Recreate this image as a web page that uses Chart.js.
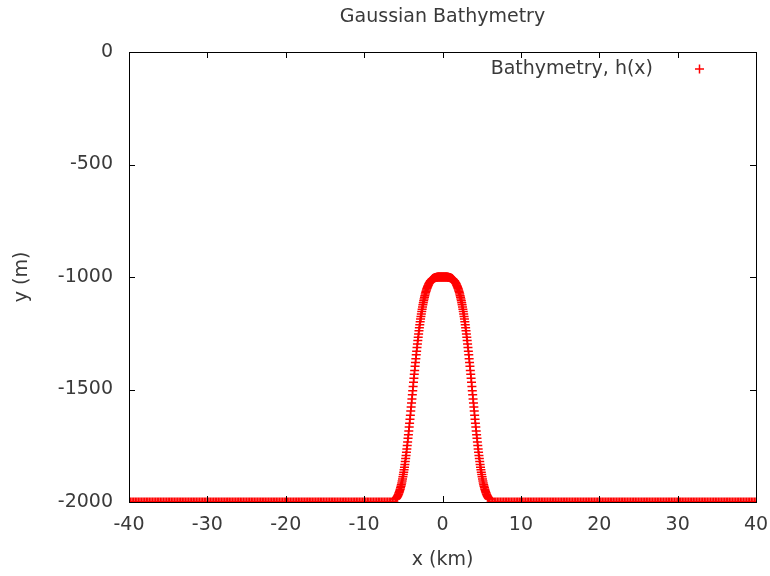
<!DOCTYPE html>
<html lang="en">
<head>
  <meta charset="UTF-8">
  <title>Gaussian Bathymetry</title>
  <script src="https://cdn.jsdelivr.net/npm/chart.js"></script>
  <style>
    html, body { margin: 0; padding: 0; background: #fff; }
    canvas { display: block; }
  </style>
</head>
<body>
  <canvas id="bathyChart" width="770" height="576"></canvas>
  <script>
    // values: x in km, depth h(x) in m
    const leftShelfX = [
      -40, -39.8, -39.6, -39.4, -39.2, -39, -38.8, -38.6, -38.4, -38.2,
      -38, -37.8, -37.6, -37.4, -37.2, -37, -36.8, -36.6, -36.4, -36.2,
      -36, -35.8, -35.6, -35.4, -35.2, -35, -34.8, -34.6, -34.4, -34.2,
      -34, -33.8, -33.6, -33.4, -33.2, -33, -32.8, -32.6, -32.4, -32.2,
      -32, -31.8, -31.6, -31.4, -31.2, -31, -30.8, -30.6, -30.4, -30.2,
      -30, -29.8, -29.6, -29.4, -29.2, -29, -28.8, -28.6, -28.4, -28.2,
      -28, -27.8, -27.6, -27.4, -27.2, -27, -26.8, -26.6, -26.4, -26.2,
      -26, -25.8, -25.6, -25.4, -25.2, -25, -24.8, -24.6, -24.4, -24.2,
      -24, -23.8, -23.6, -23.4, -23.2, -23, -22.8, -22.6, -22.4, -22.2,
      -22, -21.8, -21.6, -21.4, -21.2, -21, -20.8, -20.6, -20.4, -20.2,
      -20, -19.8, -19.6, -19.4, -19.2, -19, -18.8, -18.6, -18.4, -18.2,
      -18, -17.8, -17.6, -17.4, -17.2, -17, -16.8, -16.6, -16.4, -16.2,
      -16, -15.8, -15.6, -15.4, -15.2, -15, -14.8, -14.6, -14.4, -14.2,
      -14, -13.8, -13.6, -13.4, -13.2, -13, -12.8, -12.6, -12.4, -12.2,
      -12, -11.8, -11.6, -11.4, -11.2, -11, -10.8, -10.6, -10.4, -10.2,
      -10, -9.8, -9.6, -9.4, -9.2, -9, -8.8, -8.6, -8.4, -8.2,
      -8, -7.8, -7.6, -7.4, -7.2, -7, -6.8, -6.6, -6.4, -6.2
    ];
    const leftShelfDepth = [
      -2000, -2000, -2000, -2000, -2000, -2000, -2000, -2000, -2000, -2000,
      -2000, -2000, -2000, -2000, -2000, -2000, -2000, -2000, -2000, -2000,
      -2000, -2000, -2000, -2000, -2000, -2000, -2000, -2000, -2000, -2000,
      -2000, -2000, -2000, -2000, -2000, -2000, -2000, -2000, -2000, -2000,
      -2000, -2000, -2000, -2000, -2000, -2000, -2000, -2000, -2000, -2000,
      -2000, -2000, -2000, -2000, -2000, -2000, -2000, -2000, -2000, -2000,
      -2000, -2000, -2000, -2000, -2000, -2000, -2000, -2000, -2000, -2000,
      -2000, -2000, -2000, -2000, -2000, -2000, -2000, -2000, -2000, -2000,
      -2000, -2000, -2000, -2000, -2000, -2000, -2000, -2000, -2000, -2000,
      -2000, -2000, -2000, -2000, -2000, -2000, -2000, -2000, -2000, -2000,
      -2000, -2000, -2000, -2000, -2000, -2000, -2000, -2000, -2000, -2000,
      -2000, -2000, -2000, -2000, -2000, -2000, -2000, -2000, -2000, -2000,
      -2000, -2000, -2000, -2000, -2000, -2000, -2000, -2000, -2000, -2000,
      -2000, -2000, -2000, -2000, -2000, -2000, -2000, -2000, -2000, -2000,
      -2000, -2000, -2000, -2000, -2000, -2000, -2000, -2000, -2000, -2000,
      -2000, -2000, -2000, -2000, -2000, -2000, -2000, -2000, -2000, -2000,
      -2000, -2000, -2000, -2000, -2000, -2000, -2000, -2000, -2000, -2000
    ];
    const bumpX = [
      -6, -5.95, -5.9, -5.85, -5.8, -5.75, -5.7, -5.65, -5.6, -5.55,
      -5.5, -5.45, -5.4, -5.35, -5.3, -5.25, -5.2, -5.15, -5.1, -5.05,
      -5, -4.95, -4.9, -4.85, -4.8, -4.75, -4.7, -4.65, -4.6, -4.55,
      -4.5, -4.45, -4.4, -4.35, -4.3, -4.25, -4.2, -4.15, -4.1, -4.05,
      -4, -3.95, -3.9, -3.85, -3.8, -3.75, -3.7, -3.65, -3.6, -3.55,
      -3.5, -3.45, -3.4, -3.35, -3.3, -3.25, -3.2, -3.15, -3.1, -3.05,
      -3, -2.95, -2.9, -2.85, -2.8, -2.75, -2.7, -2.65, -2.6, -2.55,
      -2.5, -2.45, -2.4, -2.35, -2.3, -2.25, -2.2, -2.15, -2.1, -2.05,
      -2, -1.95, -1.9, -1.85, -1.8, -1.75, -1.7, -1.65, -1.6, -1.55,
      -1.5, -1.45, -1.4, -1.35, -1.3, -1.25, -1.2, -1.15, -1.1, -1.05,
      -1, -0.95, -0.9, -0.85, -0.8, -0.75, -0.7, -0.65, -0.6, -0.55,
      -0.5, -0.45, -0.4, -0.35, -0.3, -0.25, -0.2, -0.15, -0.1, -0.05,
      0,
      0.05, 0.1, 0.15, 0.2, 0.25, 0.3, 0.35, 0.4, 0.45, 0.5,
      0.55, 0.6, 0.65, 0.7, 0.75, 0.8, 0.85, 0.9, 0.95, 1,
      1.05, 1.1, 1.15, 1.2, 1.25, 1.3, 1.35, 1.4, 1.45, 1.5,
      1.55, 1.6, 1.65, 1.7, 1.75, 1.8, 1.85, 1.9, 1.95, 2,
      2.05, 2.1, 2.15, 2.2, 2.25, 2.3, 2.35, 2.4, 2.45, 2.5,
      2.55, 2.6, 2.65, 2.7, 2.75, 2.8, 2.85, 2.9, 2.95, 3,
      3.05, 3.1, 3.15, 3.2, 3.25, 3.3, 3.35, 3.4, 3.45, 3.5,
      3.55, 3.6, 3.65, 3.7, 3.75, 3.8, 3.85, 3.9, 3.95, 4,
      4.05, 4.1, 4.15, 4.2, 4.25, 4.3, 4.35, 4.4, 4.45, 4.5,
      4.55, 4.6, 4.65, 4.7, 4.75, 4.8, 4.85, 4.9, 4.95, 5,
      5.05, 5.1, 5.15, 5.2, 5.25, 5.3, 5.35, 5.4, 5.45, 5.5,
      5.55, 5.6, 5.65, 5.7, 5.75, 5.8, 5.85, 5.9, 5.95, 6
    ];
    const bumpDepth = [
      -1987, -1985, -1983, -1981, -1978, -1975, -1972, -1968, -1964, -1959,
      -1954, -1949, -1943, -1937, -1930, -1923, -1915, -1907, -1898, -1888,
      -1878, -1868, -1857, -1845, -1833, -1820, -1807, -1793, -1779, -1764,
      -1749, -1733, -1717, -1701, -1684, -1667, -1650, -1632, -1614, -1596,
      -1578, -1560, -1542, -1523, -1505, -1487, -1468, -1450, -1432, -1415,
      -1397, -1380, -1363, -1346, -1330, -1313, -1298, -1282, -1268, -1253,
      -1239, -1225, -1212, -1199, -1187, -1175, -1164, -1153, -1143, -1133,
      -1123, -1114, -1106, -1098, -1090, -1083, -1076, -1069, -1063, -1058,
      -1052, -1048, -1043, -1039, -1035, -1031, -1028, -1025, -1022, -1019,
      -1017, -1015, -1013, -1011, -1010, -1008, -1007, -1006, -1005, -1004,
      -1003, -1003, -1002, -1002, -1001, -1001, -1001, -1001, -1000, -1000,
      -1000, -1000, -1000, -1000, -1000, -1000, -1000, -1000, -1000, -1000,
      -1000,
      -1000, -1000, -1000, -1000, -1000, -1000, -1000, -1000, -1000, -1000,
      -1000, -1000, -1001, -1001, -1001, -1001, -1002, -1002, -1003, -1003,
      -1004, -1005, -1006, -1007, -1008, -1010, -1011, -1013, -1015, -1017,
      -1019, -1022, -1025, -1028, -1031, -1035, -1039, -1043, -1048, -1052,
      -1058, -1063, -1069, -1076, -1083, -1090, -1098, -1106, -1114, -1123,
      -1133, -1143, -1153, -1164, -1175, -1187, -1199, -1212, -1225, -1239,
      -1253, -1268, -1282, -1298, -1313, -1330, -1346, -1363, -1380, -1397,
      -1415, -1432, -1450, -1468, -1487, -1505, -1523, -1542, -1560, -1578,
      -1596, -1614, -1632, -1650, -1667, -1684, -1701, -1717, -1733, -1749,
      -1764, -1779, -1793, -1807, -1820, -1833, -1845, -1857, -1868, -1878,
      -1888, -1898, -1907, -1915, -1923, -1930, -1937, -1943, -1949, -1954,
      -1959, -1964, -1968, -1972, -1975, -1978, -1981, -1983, -1985, -1987
    ];
    const rightShelfX = [
      6.2, 6.4, 6.6, 6.8, 7, 7.2, 7.4, 7.6, 7.8, 8,
      8.2, 8.4, 8.6, 8.8, 9, 9.2, 9.4, 9.6, 9.8, 10,
      10.2, 10.4, 10.6, 10.8, 11, 11.2, 11.4, 11.6, 11.8, 12,
      12.2, 12.4, 12.6, 12.8, 13, 13.2, 13.4, 13.6, 13.8, 14,
      14.2, 14.4, 14.6, 14.8, 15, 15.2, 15.4, 15.6, 15.8, 16,
      16.2, 16.4, 16.6, 16.8, 17, 17.2, 17.4, 17.6, 17.8, 18,
      18.2, 18.4, 18.6, 18.8, 19, 19.2, 19.4, 19.6, 19.8, 20,
      20.2, 20.4, 20.6, 20.8, 21, 21.2, 21.4, 21.6, 21.8, 22,
      22.2, 22.4, 22.6, 22.8, 23, 23.2, 23.4, 23.6, 23.8, 24,
      24.2, 24.4, 24.6, 24.8, 25, 25.2, 25.4, 25.6, 25.8, 26,
      26.2, 26.4, 26.6, 26.8, 27, 27.2, 27.4, 27.6, 27.8, 28,
      28.2, 28.4, 28.6, 28.8, 29, 29.2, 29.4, 29.6, 29.8, 30,
      30.2, 30.4, 30.6, 30.8, 31, 31.2, 31.4, 31.6, 31.8, 32,
      32.2, 32.4, 32.6, 32.8, 33, 33.2, 33.4, 33.6, 33.8, 34,
      34.2, 34.4, 34.6, 34.8, 35, 35.2, 35.4, 35.6, 35.8, 36,
      36.2, 36.4, 36.6, 36.8, 37, 37.2, 37.4, 37.6, 37.8, 38,
      38.2, 38.4, 38.6, 38.8, 39, 39.2, 39.4, 39.6, 39.8, 40
    ];
    const rightShelfDepth = leftShelfDepth.slice();

    const xTicks = [-40, -30, -20, -10, 0, 10, 20, 30, 40];
    const yTicks = [-2000, -1500, -1000, -500, 0];

    const textColor = '#3a3a3a';
    const fontFamily = '"DejaVu Sans", sans-serif';
    const fontSize = 19;

    // points for the scatter, shelf - bump - shelf
    const xs = leftShelfX.concat(bumpX, rightShelfX);
    const ys = leftShelfDepth.concat(bumpDepth, rightShelfDepth);
    const points = xs.map((x, i) => ({ x: x, y: ys[i] }));

    // gnuplot look: frame, inward ticks on all four sides, titles, key
    const gnuplotFrame = {
      id: 'gnuplotFrame',
      afterDatasetsDraw(chart) {
        const ctx = chart.ctx;
        const a = chart.chartArea;
        const sx = chart.scales.x;
        const sy = chart.scales.y;
        const tick = 6;
        ctx.save();
        ctx.strokeStyle = '#000';
        ctx.lineWidth = 1;
        ctx.beginPath();
        xTicks.forEach(v => {
          const px = Math.round(sx.getPixelForValue(v)) + 0.5;
          ctx.moveTo(px, a.bottom); ctx.lineTo(px, a.bottom - tick);
          ctx.moveTo(px, a.top); ctx.lineTo(px, a.top + tick);
        });
        yTicks.forEach(v => {
          const py = Math.round(sy.getPixelForValue(v)) + 0.5;
          ctx.moveTo(a.left, py); ctx.lineTo(a.left + tick, py);
          ctx.moveTo(a.right, py); ctx.lineTo(a.right - tick, py);
        });
        ctx.stroke();
        ctx.strokeRect(Math.round(a.left) + 0.5, Math.round(a.top) + 0.5,
          Math.round(a.right - a.left), Math.round(a.bottom - a.top));
        ctx.restore();

        // title and axis labels
        ctx.save();
        ctx.fillStyle = textColor;
        ctx.font = fontSize + 'px ' + fontFamily;
        ctx.textAlign = 'center';
        ctx.textBaseline = 'middle';
        ctx.fillText('Gaussian Bathymetry', (a.left + a.right) / 2, 17);
        ctx.fillText('x (km)', (a.left + a.right) / 2, 560);
        ctx.save();
        ctx.translate(22, (a.top + a.bottom) / 2);
        ctx.rotate(-Math.PI / 2);
        ctx.fillText('y (m)', 0, 0);
        ctx.restore();

        // key, text on the left of the sample
        ctx.textAlign = 'right';
        ctx.fillText(chart.data.datasets[0].label, 653, 69);
        ctx.restore();

        const ds = chart.data.datasets[0];
        ctx.save();
        ctx.strokeStyle = ds.borderColor;
        ctx.lineWidth = ds.pointBorderWidth;
        ctx.beginPath();
        ctx.moveTo(695, 69); ctx.lineTo(704, 69);
        ctx.moveTo(699.5, 64.5); ctx.lineTo(699.5, 73.5);
        ctx.stroke();
        ctx.restore();
      }
    };

    const ctx = document.getElementById('bathyChart').getContext('2d');
    new Chart(ctx, {
      type: 'scatter',
      data: {
        datasets: [{
          label: 'Bathymetry, h(x)',
          data: points,
          pointStyle: 'cross',
          pointRadius: 4.5,
          pointBorderWidth: 1.5,
          borderColor: '#ff0000',
          backgroundColor: '#ff0000',
          showLine: false
        }]
      },
      options: {
        responsive: false,
        animation: false,
        devicePixelRatio: 1,
        layout: { padding: { left: 0, right: 14, top: 52, bottom: 0 } },
        plugins: {
          legend: { display: false },
          tooltip: { enabled: false }
        },
        scales: {
          x: {
            type: 'linear',
            min: -40,
            max: 40,
            afterBuildTicks: s => { s.ticks = xTicks.map(v => ({ value: v })); },
            afterFit: s => { s.height = 74; s.paddingLeft = 0; s.paddingRight = 0; },
            grid: { display: false, drawTicks: false },
            border: { display: false },
            ticks: {
              color: textColor,
              padding: 12,
              maxRotation: 0,
              autoSkip: false,
              callback: v => String(v),
              font: { family: fontFamily, size: fontSize }
            }
          },
          y: {
            type: 'linear',
            min: -2000,
            max: 0,
            afterBuildTicks: s => { s.ticks = yTicks.map(v => ({ value: v })); },
            afterFit: s => { s.width = 129; s.paddingTop = 0; s.paddingBottom = 0; },
            grid: { display: false, drawTicks: false },
            border: { display: false },
            ticks: {
              color: textColor,
              padding: 16,
              autoSkip: false,
              callback: v => String(v),
              font: { family: fontFamily, size: fontSize }
            }
          }
        }
      },
      plugins: [gnuplotFrame]
    });
  </script>
</body>
</html>
